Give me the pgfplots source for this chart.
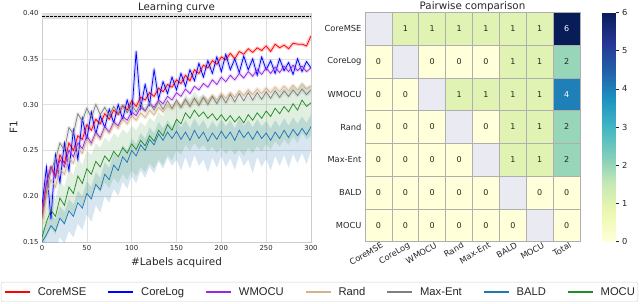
\documentclass[border=0pt]{standalone}
\usepackage{fontspec}
\setmainfont{DejaVu Sans}
\newfontfamily\legfont{Liberation Sans}
\usepackage{pgfplots}
\pgfplotsset{compat=1.18}
\usepackage{pgfplotstable}
\usepgfplotslibrary{fillbetween}

\definecolor{cmse}{RGB}{255,0,0}
\definecolor{clog}{RGB}{0,0,255}
\definecolor{cwm}{RGB}{150,40,225}
\definecolor{crand}{RGB}{210,180,140}
\definecolor{cmx}{RGB}{128,128,128}
\definecolor{cbald}{RGB}{31,119,180}
\definecolor{cmocu}{RGB}{34,139,34}
\definecolor{diagc}{RGB}{234,234,242}
\definecolor{cellline}{RGB}{175,175,175}
\definecolor{txt}{RGB}{38,38,38}

\pgfdeclareplotmark{cell}{%
  \pgfpathrectangle{\pgfpoint{-13.4375pt}{-16.386pt}}{\pgfpoint{26.875pt}{32.771pt}}%
  \pgfusepathqfillstroke}

\pgfplotstableread{
x   mse  log  wm   rand mx   bald mocu blo  bhi  mlo  mhi
0   .178 .190 .185 .170 .175 .150 .155 .135 .162 .140 .170
5   .215 .232 .215 .200 .205 .158 .172 .140 .170 .155 .188
10  .232 .175 .232 .218 .228 .168 .185 .148 .180 .165 .203
15  .222 .245 .220 .210 .240 .162 .178 .140 .175 .158 .197
20  .245 .215 .240 .230 .258 .176 .198 .155 .189 .176 .217
25  .236 .258 .232 .224 .250 .170 .190 .148 .183 .168 .210
30  .258 .228 .250 .242 .275 .184 .210 .162 .197 .186 .230
35  .250 .272 .243 .236 .268 .178 .203 .155 .191 .179 .223
40  .266 .240 .258 .252 .290 .193 .222 .170 .206 .196 .242
45  .262 .285 .252 .247 .282 .187 .214 .163 .200 .188 .234
50  .278 .262 .266 .262 .296 .203 .230 .180 .216 .203 .250
55  .272 .292 .258 .256 .286 .197 .224 .172 .210 .197 .245
60  .284 .268 .270 .268 .300 .213 .238 .190 .226 .210 .258
65  .279 .288 .264 .262 .289 .207 .232 .182 .220 .204 .253
70  .290 .275 .276 .274 .297 .224 .244 .200 .237 .215 .264
75  .284 .295 .270 .269 .288 .218 .238 .193 .231 .209 .259
80  .294 .280 .281 .279 .298 .234 .249 .208 .247 .220 .269
85  .289 .300 .277 .274 .290 .228 .243 .200 .241 .214 .264
90  .299 .284 .287 .284 .299 .243 .253 .216 .256 .224 .273
95  .294 .305 .283 .279 .291 .237 .247 .208 .250 .218 .268
100 .304 .288 .292 .288 .300 .250 .257 .222 .263 .228 .277
105 .298 .358 .288 .283 .292 .244 .251 .214 .257 .222 .272
110 .308 .296 .297 .291 .301 .256 .261 .228 .269 .232 .281
115 .305 .322 .293 .286 .293 .250 .255 .220 .263 .226 .276
120 .313 .300 .301 .294 .302 .262 .266 .232 .275 .236 .286
125 .309 .338 .297 .289 .294 .256 .260 .225 .269 .230 .281
130 .318 .306 .305 .297 .303 .268 .272 .238 .281 .240 .292
135 .314 .325 .301 .292 .295 .261 .266 .230 .274 .234 .287
140 .322 .312 .309 .299 .304 .270 .278 .242 .283 .245 .298
145 .319 .330 .305 .295 .296 .263 .272 .233 .276 .239 .293
150 .327 .316 .313 .302 .305 .271 .284 .240 .284 .250 .304
155 .323 .334 .309 .297 .297 .262 .279 .228 .275 .245 .300
160 .332 .320 .317 .304 .306 .270 .291 .243 .283 .256 .311
165 .326 .338 .312 .299 .298 .261 .285 .230 .274 .250 .306
170 .338 .326 .320 .306 .307 .272 .294 .245 .285 .258 .314
175 .334 .345 .316 .301 .299 .263 .287 .233 .276 .251 .308
180 .343 .330 .323 .308 .308 .270 .292 .240 .283 .256 .312
185 .340 .348 .319 .303 .300 .260 .285 .226 .273 .249 .306
190 .348 .334 .327 .310 .309 .269 .290 .242 .282 .254 .310
195 .344 .352 .322 .305 .301 .262 .283 .231 .275 .247 .304
200 .352 .336 .330 .312 .310 .271 .289 .244 .284 .253 .309
205 .349 .355 .325 .307 .302 .263 .282 .232 .276 .246 .303
210 .356 .338 .332 .313 .311 .270 .288 .241 .283 .252 .308
215 .350 .350 .327 .308 .303 .261 .281 .229 .274 .245 .302
220 .358 .335 .334 .315 .312 .272 .287 .245 .285 .251 .307
225 .355 .353 .329 .310 .304 .264 .280 .233 .277 .244 .301
230 .361 .338 .336 .316 .313 .270 .289 .240 .283 .253 .309
235 .357 .350 .331 .311 .305 .262 .283 .225 .275 .247 .304
240 .362 .332 .338 .317 .313 .271 .291 .243 .284 .255 .311
245 .359 .352 .333 .312 .306 .263 .285 .232 .276 .249 .306
250 .364 .338 .340 .318 .314 .269 .293 .241 .282 .257 .313
255 .358 .348 .334 .313 .307 .261 .287 .228 .274 .251 .308
260 .366 .334 .341 .319 .315 .270 .296 .244 .283 .260 .316
265 .362 .350 .335 .314 .308 .263 .290 .233 .276 .254 .311
270 .365 .337 .342 .320 .315 .272 .298 .245 .285 .262 .318
275 .361 .346 .336 .315 .309 .264 .292 .231 .277 .256 .313
280 .367 .333 .343 .321 .316 .273 .301 .246 .286 .265 .321
285 .366 .350 .337 .316 .310 .266 .294 .236 .279 .258 .315
290 .366 .336 .342 .322 .317 .274 .305 .247 .287 .269 .325
295 .364 .347 .336 .317 .311 .267 .298 .235 .280 .262 .319
300 .375 .340 .340 .320 .316 .276 .302 .250 .289 .266 .322
}\curves

% heatmap cells (off-diagonal)
\pgfplotstableread{
x y v
1 0 1
2 0 1
3 0 1
4 0 1
5 0 1
6 0 1
7 0 6
0 1 0
2 1 0
3 1 0
4 1 0
5 1 1
6 1 1
7 1 2
0 2 0
1 2 0
3 2 1
4 2 1
5 2 1
6 2 1
7 2 4
0 3 0
1 3 0
2 3 0
4 3 0
5 3 1
6 3 1
7 3 2
0 4 0
1 4 0
2 4 0
3 4 0
5 4 1
6 4 1
7 4 2
0 5 0
1 5 0
2 5 0
3 5 0
4 5 0
6 5 0
7 5 0
0 6 0
1 6 0
2 6 0
3 6 0
4 6 0
5 6 0
7 6 0
}\heat

\pgfplotstableread{
x y v
1 0 1
2 0 1
3 0 1
4 0 1
5 0 1
6 0 1
0 1 0
2 1 0
3 1 0
4 1 0
5 1 1
6 1 1
7 1 2
0 2 0
1 2 0
3 2 1
4 2 1
5 2 1
6 2 1
0 3 0
1 3 0
2 3 0
4 3 0
5 3 1
6 3 1
7 3 2
0 4 0
1 4 0
2 4 0
3 4 0
5 4 1
6 4 1
7 4 2
0 5 0
1 5 0
2 5 0
3 5 0
4 5 0
6 5 0
7 5 0
0 6 0
1 6 0
2 6 0
3 6 0
4 6 0
5 6 0
7 6 0
}\heatdark

\pgfplotstableread{
x y v
7 0 6
7 2 4
}\heatwhite

\pgfplotstableread{
x y
0 0
1 1
2 2
3 3
4 4
5 5
6 6
}\diag

\begin{document}
\begin{tikzpicture}

% ---------------- Learning curve ----------------
\begin{axis}[
  at={(42pt,61pt)}, anchor=south west, scale only axis,
  width=269pt, height=229pt,
  xmin=0, xmax=300, ymin=0.15, ymax=0.40,
  xtick={0,50,100,150,200,250,300},
  ytick={0.15,0.2,0.25,0.3,0.35,0.4},
  yticklabel style={/pgf/number format/.cd, fixed, fixed zerofill, precision=2, /tikz/.cd},
  /pgf/number format/assume math mode=true,
  tick label style={font=\fontsize{6.9}{8}\selectfont, text=txt},
  grid=major, major grid style={draw=black!12, line width=0.6pt},
  axis line style={draw=black!20},
  major tick length=0pt,
  every axis title shift=0pt,
  title={Learning curve},
  title style={at={(axis description cs:0.5,1)}, anchor=base, yshift=3pt, inner sep=0pt, font=\fontsize{10.3}{12}\selectfont, text=txt},
  xlabel={\#Labels acquired},
  xlabel style={at={(axis description cs:0.5,0)}, anchor=base, yshift=-23pt, inner sep=0pt, font=\fontsize{10.4}{12}\selectfont, text=txt},
  ylabel={F1},
  ylabel style={at={(axis description cs:-0.106,0.5)}, anchor=center, inner sep=0pt, font=\fontsize{10.4}{12}\selectfont, text=txt},
  legend columns=7,
  legend style={at={(axis description cs:1.0316,-0.218)}, anchor=center,
    draw=black!18, rounded corners=2pt, font=\legfont\fontsize{11.2}{13}\selectfont,
    text=txt, inner xsep=3pt, inner ysep=3pt,
    nodes={inner xsep=0pt, inner ysep=2pt},
    /tikz/every odd column/.append style={column sep=7pt},
    /tikz/every even column/.append style={column sep=21pt}},
  legend image code/.code={\draw[#1, line width=1.8pt, opacity=1] (0pt,0pt) -- (25pt,0pt);},
]
% top reference band and dashed line
\addplot[name path=t1, draw=none, forget plot] coordinates {(0,0.3935) (300,0.3935)};
\addplot[name path=t2, draw=none, forget plot] coordinates {(0,0.40) (300,0.40)};
\addplot[black!13, forget plot] fill between[of=t1 and t2];
\addplot[black, line width=0.8pt, dash pattern=on 2.5pt off 1.5pt, forget plot] coordinates {(0,0.3965) (300,0.3965)};

% bands
\addplot[name path=blo, draw=none, forget plot] table[x=x,y=blo]{\curves};
\addplot[name path=bhi, draw=none, forget plot] table[x=x,y=bhi]{\curves};
\addplot[cbald, opacity=0.18, forget plot] fill between[of=blo and bhi];
\addplot[name path=mlo, draw=none, forget plot] table[x=x,y=mlo]{\curves};
\addplot[name path=mhi, draw=none, forget plot] table[x=x,y=mhi]{\curves};
\addplot[cmocu, opacity=0.14, forget plot] fill between[of=mlo and mhi];
\addplot[cmse, opacity=0.2, line width=3.5pt, line join=round, forget plot] table[x=x,y=mse]{\curves};
\addplot[clog, opacity=0.15, line width=3.5pt, line join=round, forget plot] table[x=x,y=log]{\curves};
\addplot[cwm, opacity=0.15, line width=3.5pt, line join=round, forget plot] table[x=x,y=wm]{\curves};
\addplot[crand, opacity=0.25, line width=4pt, line join=round, forget plot] table[x=x,y=rand]{\curves};
\addplot[cmx, opacity=0.15, line width=4pt, line join=round, forget plot] table[x=x,y=mx]{\curves};

% lines
\addplot[cmse, line width=0.75pt] table[x=x,y=mse]{\curves};
\addlegendentry{CoreMSE}
\addplot[clog, line width=0.75pt] table[x=x,y=log]{\curves};
\addlegendentry{CoreLog}
\addplot[cwm, line width=0.75pt] table[x=x,y=wm]{\curves};
\addlegendentry{WMOCU}
\addplot[crand, line width=0.75pt] table[x=x,y=rand]{\curves};
\addlegendentry{Rand}
\addplot[cmx, line width=0.75pt] table[x=x,y=mx]{\curves};
\addlegendentry{Max-Ent}
\addplot[cbald, line width=0.75pt] table[x=x,y=bald]{\curves};
\addlegendentry{BALD}
\addplot[cmocu, line width=0.75pt] table[x=x,y=mocu]{\curves};
\addlegendentry{MOCU}
\end{axis}

% ---------------- Pairwise comparison ----------------
\begin{axis}[
  at={(365pt,61.3pt)}, anchor=south west, scale only axis,
  width=215pt, height=229.4pt,
  xmin=-0.5, xmax=7.5, ymin=-0.5, ymax=6.5, y dir=reverse,
  axis line style={draw=none}, major tick length=0pt,
  xtick={0,1,2,3,4,5,6,7}, ytick={0,1,2,3,4,5,6},
  xticklabels={CoreMSE,CoreLog,WMOCU,Rand,Max-Ent,BALD,MOCU,Total},
  yticklabels={CoreMSE,CoreLog,WMOCU,Rand,Max-Ent,BALD,MOCU},
  xticklabel style={rotate=30, anchor=north east, font=\fontsize{8.3}{9}\selectfont, text=txt, inner sep=1pt, xshift=3pt},
  yticklabel style={font=\fontsize{8.3}{9}\selectfont, text=txt},
  every axis title shift=0pt,
  title={Pairwise comparison},
  title style={at={(axis description cs:0.5,1)}, anchor=base, yshift=3pt, inner sep=0pt, font=\fontsize{10.3}{12}\selectfont, text=txt},
  colormap={ylgnbu}{rgb255=(255,255,217) rgb255=(237,248,177) rgb255=(199,233,180) rgb255=(127,205,187) rgb255=(65,182,196) rgb255=(29,145,192) rgb255=(34,94,168) rgb255=(37,52,148) rgb255=(8,29,88)},
  point meta min=0, point meta max=6,
  colorbar,
  colorbar style={at={(parent axis.north east)}, anchor=north west, xshift=14pt,
    width=13pt, ytick={0,1,2,3,4,5,6}, axis line style={draw=none},
    ytick pos=right, yticklabel pos=right, tick align=outside, major tick length=3pt,
    ytick style={draw=txt, line width=0.5pt},
    /pgf/number format/assume math mode=true,
    yticklabel style={font=\fontsize{8.3}{9}\selectfont, text=txt}},
]
\addplot[scatter, only marks, mark=cell, scatter src=explicit,
  scatter/use mapped color={draw=cellline, fill=mapped color}, line width=0.6pt]
  table[x=x, y=y, meta=v]{\heat};
\addplot[only marks, mark=cell, mark options={draw=cellline, fill=diagc}, line width=0.6pt]
  table[x=x, y=y]{\diag};
\addplot[only marks, mark=*, mark size=0pt, draw=none, nodes near coords, point meta=explicit symbolic,
  every node near coord/.append style={anchor=center, font=\fontsize{8}{9}\selectfont, text=txt}]
  table[x=x, y=y, meta=v]{\heatdark};
\addplot[only marks, mark=*, mark size=0pt, draw=none, nodes near coords, point meta=explicit symbolic,
  every node near coord/.append style={anchor=center, font=\fontsize{8}{9}\selectfont, text=white}]
  table[x=x, y=y, meta=v]{\heatwhite};
\end{axis}
\pgfresetboundingbox
\useasboundingbox (0pt,0pt) rectangle (640pt,303pt);
\end{tikzpicture}
\end{document}
